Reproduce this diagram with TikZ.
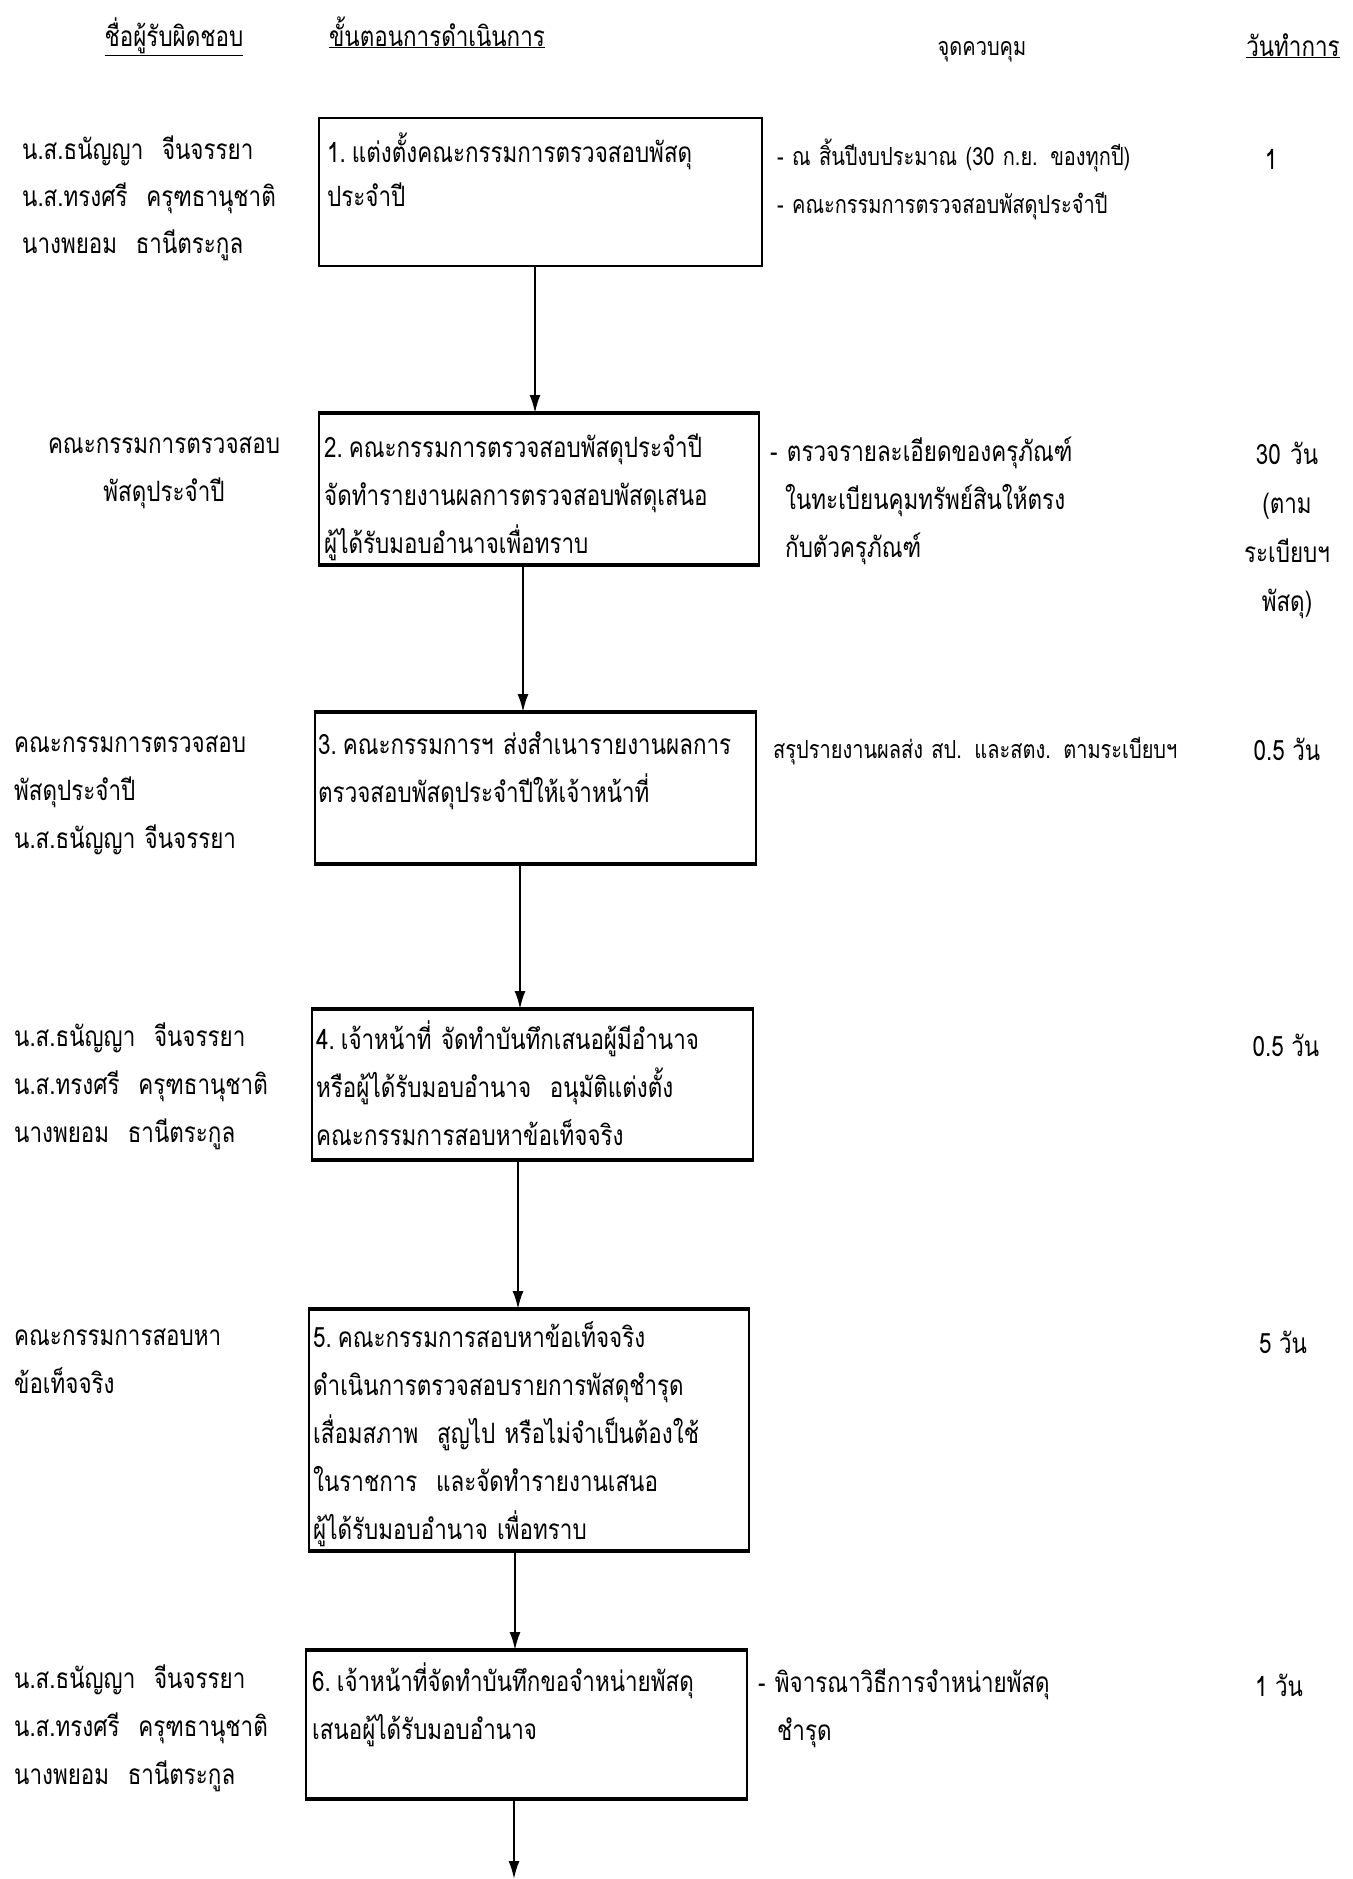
\documentclass[tikz,border=0pt]{standalone}
\usepackage{fontspec}
\setmainfont[Script=Thai, FakeStretch=0.8]{Loma}
\usetikzlibrary{arrows.meta}
\newcommand{\numgap}{\hspace{6pt}}
\tikzset{
  stepbox/.style={draw, line width=2pt, inner sep=0pt, anchor=north west},
  edge/.style={line width=3.5pt},
  flow/.style={line width=2pt, -{Latex[length=18pt,width=11pt]}},
  txt/.style={inner sep=0pt, align=left, text width=600pt, font=\fontsize{28}{48}\selectfont},
  small/.style={inner sep=0pt, align=left, text width=600pt, font=\fontsize{25}{48}\selectfont},
  day/.style={inner sep=0pt, align=center, font=\fontsize{28}{49}\selectfont},
  daystack/.style={day, text width=300pt},
}
\begin{document}
\begin{tikzpicture}[x=1pt,y=-1pt]
\useasboundingbox (0,0) rectangle (1352,1879);

% column headings
\node[day, anchor=base] (h1) at (174,46) {\underline{ชื่อผู้รับผิดชอบ}};
\node[day, anchor=base] (h2) at (437,46) {\underline{ขั้นตอนการดำเนินการ}};
\node[day, anchor=base, font=\fontsize{25}{48}\selectfont] (h3) at (982,55) {จุดควบคุม};
\node[day, anchor=base] (h4) at (1293,56) {\underline{วันทำการ}};

% process boxes
\node[stepbox, minimum width=443pt, minimum height=148pt] (b1) at (318,117) {};
\node[stepbox, minimum width=440pt, minimum height=150pt] (b2) at (318,413) {};
\node[stepbox, minimum width=441pt, minimum height=150pt] (b3) at (314,712) {};
\node[stepbox, minimum width=441pt, minimum height=149pt] (b4) at (311,1009) {};
\node[stepbox, minimum width=440pt, minimum height=240pt] (b5) at (308,1309) {};
\node[stepbox, minimum width=441pt, minimum height=147pt] (b6) at (305,1650) {};
\foreach \b in {b2,b3,b4,b5,b6}{
  \draw[edge] (\b.north west) -- (\b.north east);
  \draw[edge] (\b.south west) -- (\b.south east);
}

% box texts
\node[txt, anchor=base west, font=\fontsize{28}{44}\selectfont] (s1) at (327,162)
  {1.\numgap แต่งตั้งคณะกรรมการตรวจสอบพัสดุ\\ประจำปี};
\node[txt, anchor=base west] (s2) at (324,457)
  {2.\numgap คณะกรรมการตรวจสอบพัสดุประจำปี\\จัดทำรายงานผลการตรวจสอบพัสดุเสนอ\\ผู้ได้รับมอบอำนาจเพื่อทราบ};
\node[txt, anchor=base west] (s3) at (318,754)
  {3.\numgap คณะกรรมการฯ ส่งสำเนารายงานผลการ\\ตรวจสอบพัสดุประจำปีให้เจ้าหน้าที่};
\node[txt, anchor=base west] (s4) at (316,1049)
  {4.\numgap เจ้าหน้าที่ จัดทำบันทึกเสนอผู้มีอำนาจ\\หรือผู้ได้รับมอบอำนาจ\ \ อนุมัติแต่งตั้ง\\คณะกรรมการสอบหาข้อเท็จจริง};
\node[txt, anchor=base west] (s5) at (313,1347)
  {5.\numgap คณะกรรมการสอบหาข้อเท็จจริง\\ดำเนินการตรวจสอบรายการพัสดุชำรุด\\เสื่อมสภาพ\ \ สูญไป หรือไม่จำเป็นต้องใช้\\ในราชการ\ \ และจัดทำรายงานเสนอ\\ผู้ได้รับมอบอำนาจ เพื่อทราบ};
\node[txt, anchor=base west] (s6) at (312,1691)
  {6.\numgap เจ้าหน้าที่จัดทำบันทึกขอจำหน่ายพัสดุ\\เสนอผู้ได้รับมอบอำนาจ};

% flow arrows
\coordinate (x1) at (535,0);
\coordinate (x2) at (523,0);
\coordinate (x3) at (520,0);
\coordinate (x4) at (518,0);
\coordinate (x5) at (515,0);
\coordinate (x6) at (514,0);
\coordinate (out) at (514,1879);
\draw[flow] (b1.south -| x1) -- (b2.north -| x1);
\draw[flow] (b2.south -| x2) -- (b3.north -| x2);
\draw[flow] (b3.south -| x3) -- (b4.north -| x3);
\draw[flow] (b4.south -| x4) -- (b5.north -| x4);
\draw[flow] (b5.south -| x5) -- (b6.north -| x5);
\draw[flow] (b6.south -| x6) -- (out);

% responsible persons
\node[txt, anchor=base west, font=\fontsize{28}{47}\selectfont] (r1) at (22,159)
  {น.ส.ธนัญญา\ \ จีนจรรยา\\น.ส.ทรงศรี\ \ ครุฑธานุชาติ\\นางพยอม\ \ ธานีตระกูล};
\node[daystack, font=\fontsize{28}{48}\selectfont, anchor=base] (r2) at (164,453)
  {คณะกรรมการตรวจสอบ\\พัสดุประจำปี};
\node[txt, anchor=base west] (r3) at (14,752)
  {คณะกรรมการตรวจสอบ\\พัสดุประจำปี\\น.ส.ธนัญญา จีนจรรยา};
\node[txt, anchor=base west] (r4) at (14,1046)
  {น.ส.ธนัญญา\ \ จีนจรรยา\\น.ส.ทรงศรี\ \ ครุฑธานุชาติ\\นางพยอม\ \ ธานีตระกูล};
\node[txt, anchor=base west] (r5) at (14,1345)
  {คณะกรรมการสอบหา\\ข้อเท็จจริง};
\node[txt, anchor=base west] (r6) at (14,1688)
  {น.ส.ธนัญญา\ \ จีนจรรยา\\น.ส.ทรงศรี\ \ ครุฑธานุชาติ\\นางพยอม\ \ ธานีตระกูล};

% control points
\node[small, anchor=base west] (c1) at (777,165)
  {- ณ สิ้นปีงบประมาณ (30 ก.ย. ของทุกปี)\\- คณะกรรมการตรวจสอบพัสดุประจำปี};
\node[txt, anchor=base west] (c2) at (770,461)
  {- ตรวจรายละเอียดของครุภัณฑ์\\\hspace*{15pt}ในทะเบียนคุมทรัพย์สินให้ตรง\\\hspace*{15pt}กับตัวครุภัณฑ์};
\node[small, anchor=base west] (c3) at (773,758)
  {สรุปรายงานผลส่ง สป. และสตง. ตามระเบียบฯ};
\node[txt, anchor=base west] (c6) at (758,1692)
  {- พิจารณาวิธีการจำหน่ายพัสดุ\\\hspace*{19pt}ชำรุด};

% working days
\node[day, anchor=base] (d1) at (1271,169) {1};
\node[daystack, anchor=base] (d2) at (1287,464) {30 วัน\\(ตาม\\ระเบียบฯ\\พัสดุ)};
\node[day, anchor=base] (d3) at (1287,760) {0.5 วัน};
\node[day, anchor=base] (d4) at (1286,1056) {0.5 วัน};
\node[day, anchor=base] (d5) at (1283,1353) {5 วัน};
\node[day, anchor=base] (d6) at (1279,1696) {1 วัน};
\end{tikzpicture}
\end{document}
